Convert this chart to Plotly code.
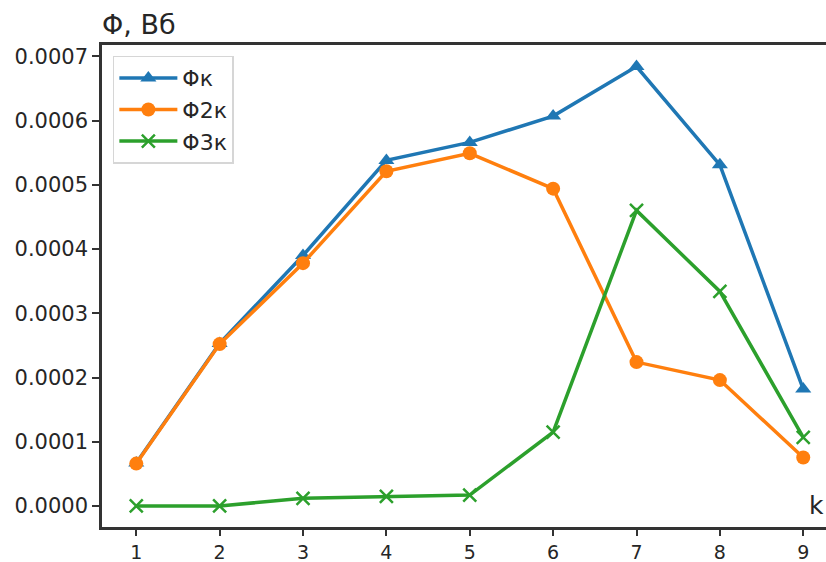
import plotly.graph_objects as go

# Magnetic flux per section k
k = [1, 2, 3, 4, 5, 6, 7, 8, 9]
phi_k = [0.000067, 0.000253, 0.000390, 0.000538, 0.000566, 0.000607, 0.000684, 0.000531, 0.000182]
phi_2k = [0.000066, 0.000252, 0.000378, 0.000521, 0.000549, 0.000494, 0.000224, 0.000196, 0.0000755]
phi_3k = [0.0, 0.0, 0.000012, 0.000015, 0.000017, 0.000115, 0.000460, 0.000334, 0.000107]

series_names = ["Φк", "Φ2к", "Φ3к"]
colors = ["#1f77b4", "#ff7f0e", "#2ca02c"]
symbols = ["triangle-up", "circle", "x-thin"]
y_ticks = [0.0, 0.0001, 0.0002, 0.0003, 0.0004, 0.0005, 0.0006, 0.0007]
y_tick_text = ["0.0000", "0.0001", "0.0002", "0.0003", "0.0004", "0.0005", "0.0006", "0.0007"]

FONT = "DejaVu Sans"
TEXT = "#262626"

fig = go.Figure()
for name, ys, c, s in zip(series_names, [phi_k, phi_2k, phi_3k], colors, symbols):
    marker = dict(symbol=s, size=14, color=c)
    if s == "x-thin":
        marker.update(size=13, line=dict(color=c, width=2.5))
    fig.add_trace(go.Scatter(
        x=k, y=ys, name=name, mode="lines+markers",
        line=dict(color=c, width=3.5), marker=marker,
    ))

fig.update_layout(
    width=826, height=562,
    margin=dict(l=102, r=0, t=45, b=35),
    paper_bgcolor="white", plot_bgcolor="white",
    font=dict(family=FONT, size=21, color=TEXT),
    showlegend=True,
    legend=dict(
        x=0.015, y=0.978, xanchor="left", yanchor="top",
        bgcolor="white", bordercolor="#d6d6d6", borderwidth=1.5,
        font=dict(family=FONT, size=22, color=TEXT),
        itemwidth=58, tracegroupgap=0,
    ),
    xaxis=dict(
        range=[0.589, 9.273], tickvals=k, ticktext=[str(v) for v in k],
        showgrid=False, zeroline=False, automargin=False,
        showline=True, mirror=True, linecolor="#333", linewidth=2.5,
        ticks="outside", ticklen=6, tickwidth=1.8, tickcolor="#333",
        tickfont=dict(family=FONT, size=19, color=TEXT),
    ),
    yaxis=dict(
        range=[-0.0000327, 0.0007176], tickvals=y_ticks, ticktext=y_tick_text,
        showgrid=False, zeroline=False, automargin=False,
        showline=True, mirror=False, linecolor="#333", linewidth=2.5,
        ticks="outside", ticklen=7, tickwidth=1.8, tickcolor="#333",
        tickfont=dict(family=FONT, size=21, color=TEXT),
    ),
    annotations=[
        dict(text="Φ, Вб", xref="paper", yref="paper", x=-0.003, y=1.0,
             xanchor="left", yanchor="bottom", yshift=3, showarrow=False,
             font=dict(family=FONT, size=27, color=TEXT)),
        dict(text="k", xref="paper", yref="paper", x=1.0, y=0.01,
             xanchor="right", yanchor="bottom", showarrow=False,
             font=dict(family=FONT, size=25, color=TEXT)),
    ],
)

fig.write_html("out.html")
